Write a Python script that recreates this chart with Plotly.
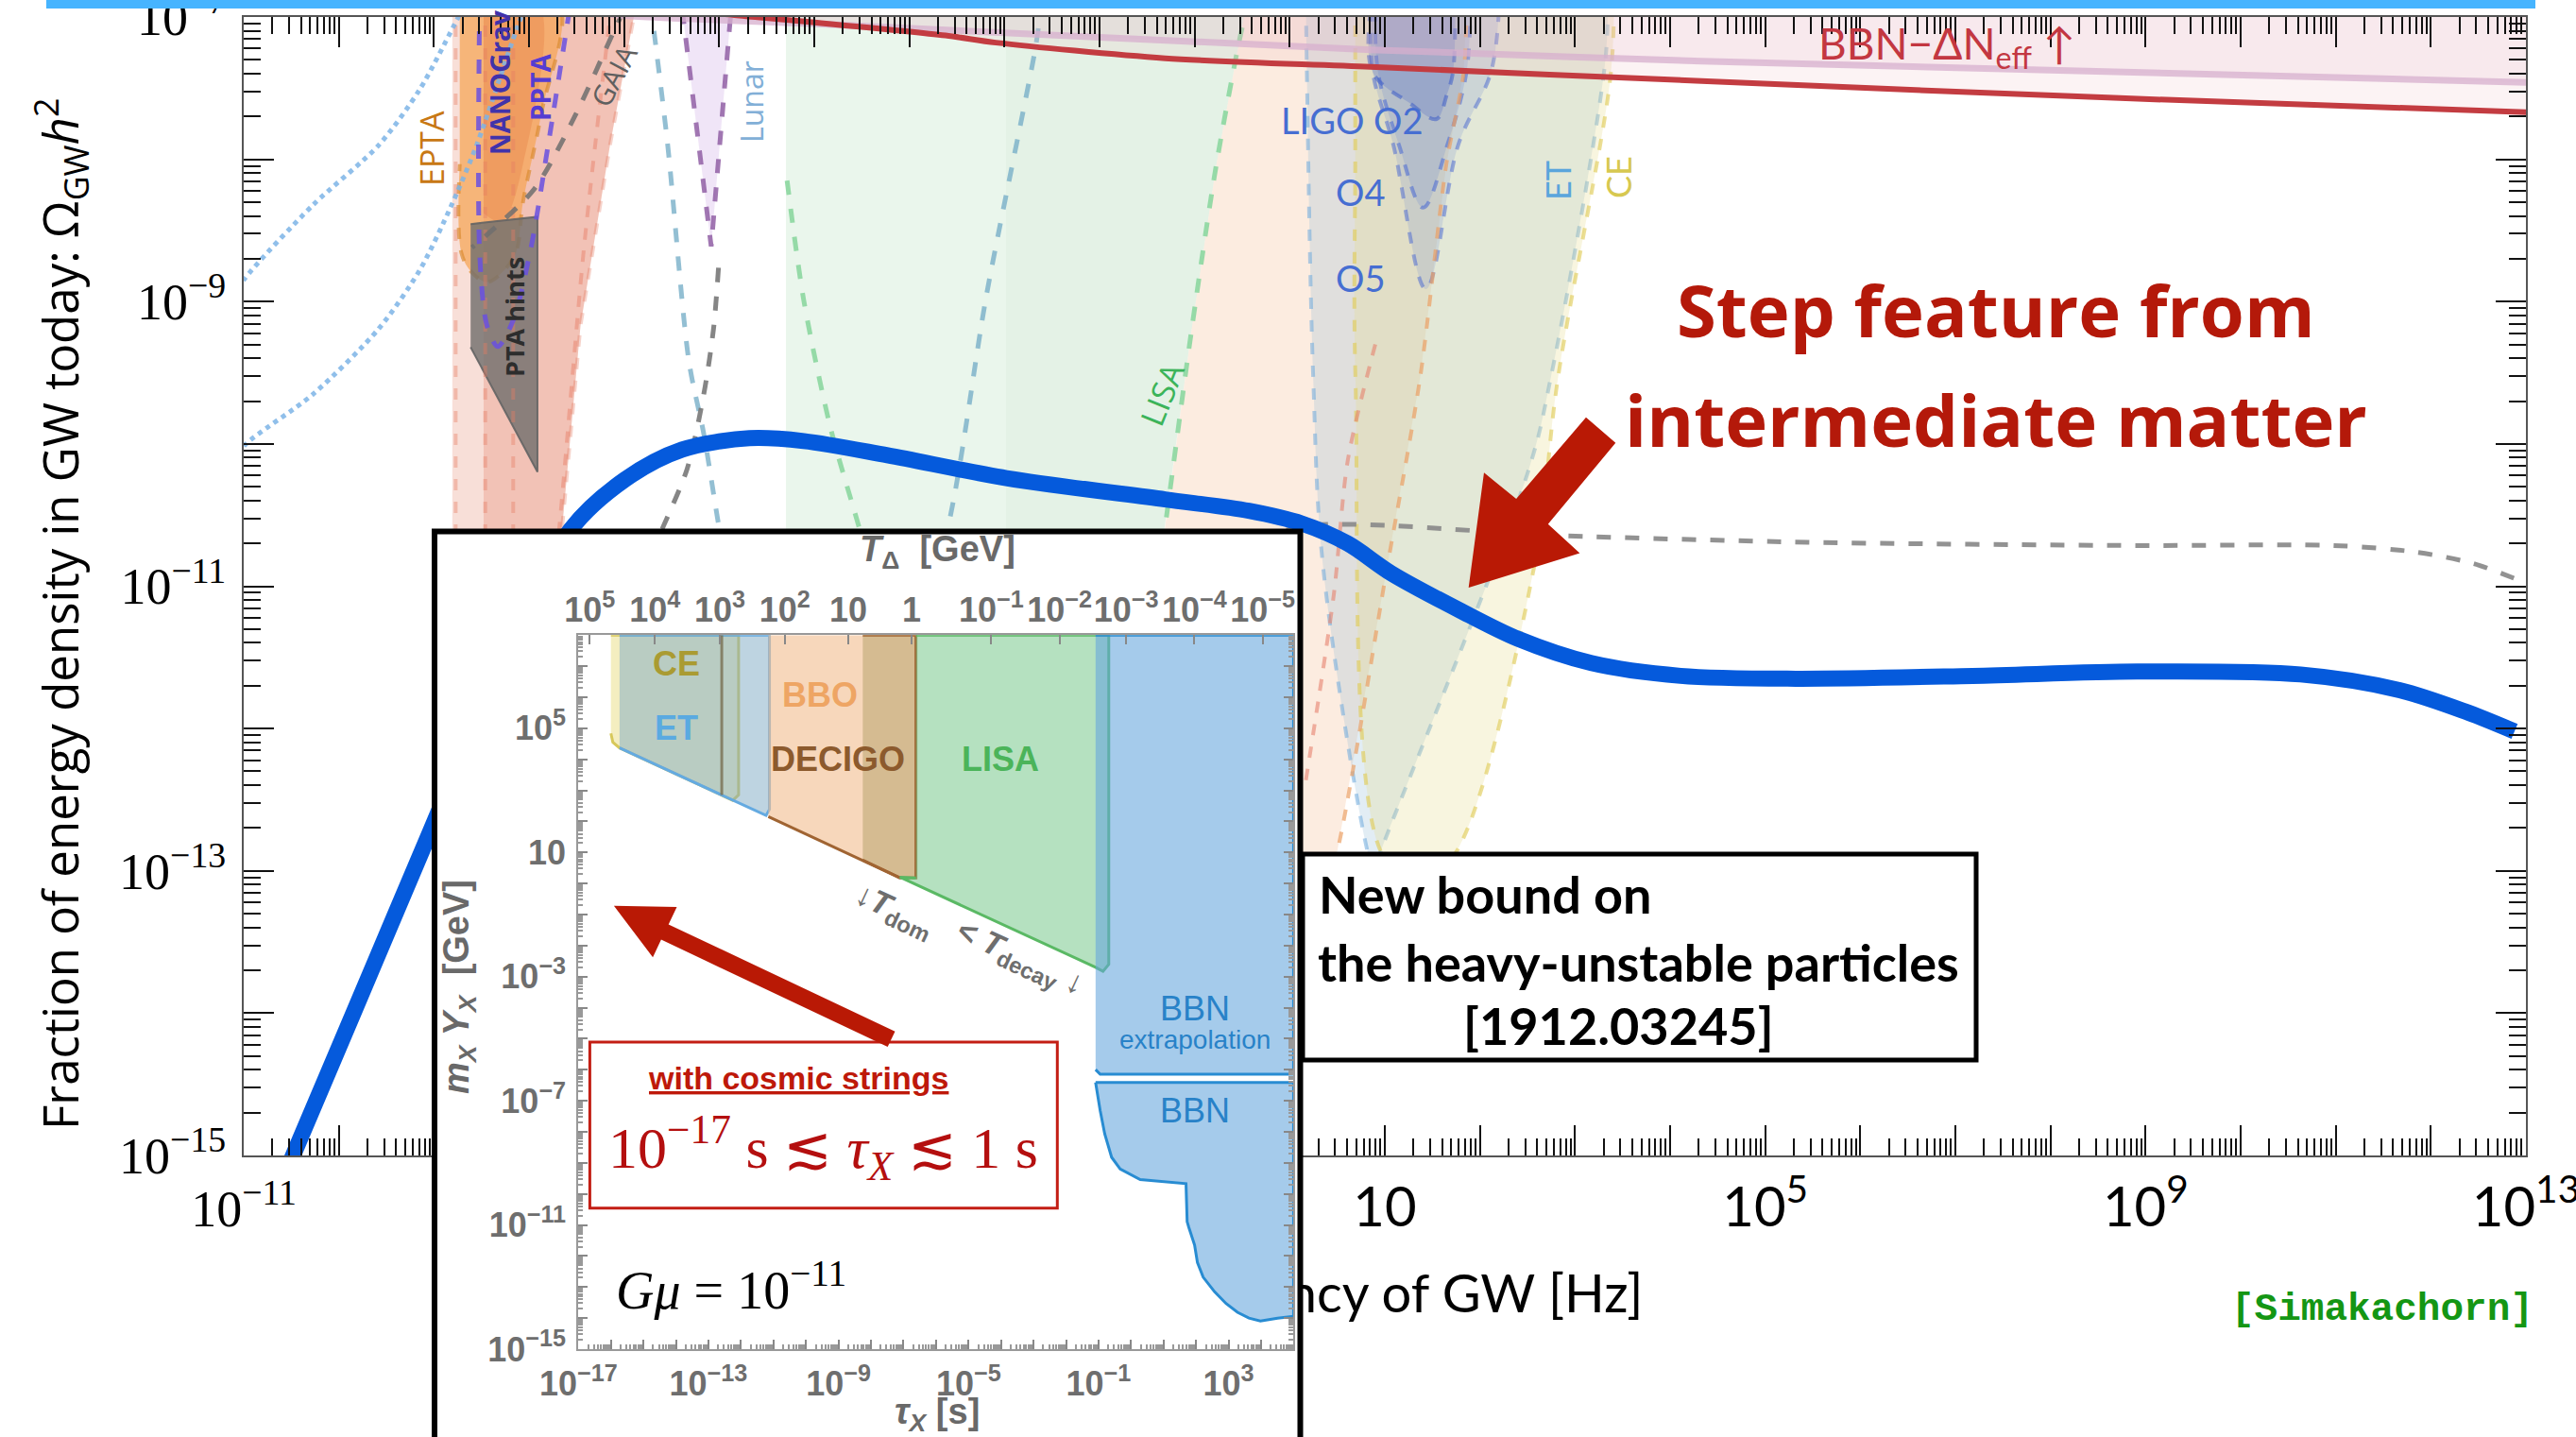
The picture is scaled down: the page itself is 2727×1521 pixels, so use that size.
import plotly.graph_objects as go

W, H = 2727, 1521


def px(x):
    return x / W


def py(y):
    return (H - y) / H


def p10(v):
    return [10.0 ** t for t in v]


SERIF = "Liberation Serif, DejaVu Serif, serif"
SANS = "Open Sans, DejaVu Sans, sans-serif"
COND = "Lato, Roboto, sans-serif"
ARIAL = "Liberation Sans, Arial, sans-serif"
MONO = "Liberation Mono, DejaVu Sans Mono, monospace"

# ---------------- main panel: log10 f [Hz] vs log10 Omega_GW h^2 ----------------
# cosmic-string spectrum with a step from an intermediate matter era
spec_lf = [-10.50, -9.84, -9.03, -8.29, -7.56, -6.99, -6.39, -5.68, -5.11, -4.23, -2.98, -1.31,
           -0.43, 0.13, 0.61, 1.07, 1.79, 2.40, 3.17, 4.11, 5.32, 7.18, 8.91, 10.63, 11.67, 12.36, 12.88]
spec_lo = [-15.03, -13.99, -12.71, -11.55, -10.60, -10.25, -10.04, -9.96, -9.98, -10.08, -10.24, -10.39,
           -10.47, -10.56, -10.70, -10.91, -11.17, -11.37, -11.54, -11.63, -11.65, -11.63, -11.60, -11.62,
           -11.73, -11.88, -12.02]

# standard spectrum without the step (grey dashed)
std_lf = [-0.6, 0.179, 2.857, 5.449, 8.905, 10.978, 11.842, 12.447, 12.88, 13.1]
std_lo = [-10.74, -10.576, -10.645, -10.691, -10.714, -10.714, -10.76, -10.84, -10.945, -11.0]

# BBN - Delta N_eff bound and the companion line
bbn_lf = [-6.5, -5.94, -5.13, -3.62, -3.09, -1.31, 0.85, 4.33, 8.73, 13.05]
bbn_lo = [-6.93, -6.98, -7.03, -7.13, -7.18, -7.29, -7.35, -7.45, -7.57, -7.67]
neff_lf = [-7.5, -6.99, -4.92, 0.85, 4.33, 13.05]
neff_lo = [-6.95, -6.99, -7.05, -7.23, -7.31, -7.46]

# PTA / SKA region
ska_lf = [-8.806, -6.87, -7.147, -7.458, -7.648, -7.821, -8.806]
ska_lo = [-6.9, -6.9, -7.895, -9.166, -10.564, -11.731, -11.731]
ska2_lf = [-8.477, -6.87, -7.147, -7.458, -7.648, -7.821, -8.477]
ska2_lo = [-6.9, -6.9, -7.895, -9.166, -10.564, -11.731, -11.731]
ska_dash_x = [-8.771, -8.46, -8.166]
ska_slant_lf = [-7.13, -7.42, -7.68, -7.85]
ska_slant_lo = [-6.9, -8.61, -10.58, -11.7]

epta_lf = [-8.728, -7.700, -7.873, -8.063, -8.139, -8.287, -8.443, -8.598, -8.711, -8.728]
epta_lo = [-6.9, -6.9, -7.687, -8.300, -8.658, -8.797, -8.862, -8.797, -8.658, -8.034]
nano_f_lf = [-8.477, -7.907, -8.063, -8.287, -8.477]
nano_f_lo = [-6.9, -6.9, -8.034, -8.438, -8.380]
nano_lf = [-8.519, -8.519, -8.443, -8.329, -8.166, -7.976, -7.803, -7.562]
nano_lo = [-6.9, -8.658, -9.166, -9.316, -9.131, -8.611, -7.918, -6.9]
pta_lf = [-8.614, -7.911, -7.911, -8.614]
pta_lo = [-8.455, -8.404, -10.197, -9.320]

gaia_lf = [-7.0, -7.112, -7.510, -7.942, -8.443, -8.6]
gaia_lo = [-6.95, -7.107, -7.687, -8.207, -8.531, -8.62]

dot1_lf = [-11.1, -10.99, -10.27, -9.58, -9.15, -8.75, -8.70]
dot1_lo = [-8.97, -8.84, -8.32, -7.90, -7.51, -7.01, -6.95]
dot2_lf = [-11.1, -10.99, -10.27, -9.58, -9.15, -8.82, -8.55, -8.08, -8.02]
dot2_lo = [-10.13, -10.01, -9.65, -9.19, -8.78, -8.33, -7.90, -7.0, -6.93]

lunar_lf = [-6.72, -6.698, -6.542, -6.318, -6.162, -6.007, -5.609, -4.918, -4.227, -3.587, -3.190, -2.672, -2.62]
lunar_lo = [-6.9, -7.029, -7.895, -9.420, -9.929, -10.564, -12.078, -12.887, -12.078, -10.564, -8.958, -7.209, -6.95]
tq_lf = [-6.388, -6.084, -5.875]
tq_lo = [-6.95, -8.612, -6.95]
gl_lf = [-6.007, -6.059, -6.162, -6.335, -6.577, -6.905]
gl_lo = [-8.762, -9.189, -9.651, -10.171, -10.564, -11.04]

# LISA and the interferometer regions
lisa_f_lf = [-5.298, -0.45, -0.512, -0.771, -1.030, -1.307, -1.549, -1.8, -5.298]
lisa_f_lo = [-6.9, -6.9, -7.11, -8.034, -9.189, -10.564, -11.731, -12.3, -12.3]
lisa2_f_lf = [-2.983, -0.45, -0.512, -0.771, -1.030, -1.307, -1.549, -1.8, -2.983]
lisa2_f_lo = lisa_f_lo
lisa_lf = [-5.286, -5.111, -4.831, -4.538, -4.14, -3.19, -2.153, -1.549, -1.307, -1.030, -0.771, -0.512, -0.45]
lisa_lo = [-8.149, -8.989, -9.882, -10.564, -11.50, -12.42, -12.19, -11.731, -10.564, -9.189, -8.034, -7.11, -6.95]

peach_lf = [-0.45, 1.86, 1.829, 1.647, 1.371, 1.025, 0.500, 0.0, -1.549, -1.307, -1.030, -0.771, -0.512]
peach_lo = [-6.9, -6.9, -7.39, -8.034, -9.536, -10.864, -12.863, -13.2, -11.731, -10.564, -9.189, -8.034, -7.11]
bbo_lf = [1.86, 1.829, 1.647, 1.371, 1.025, 0.500, 0.3]
bbo_lo = [-6.9, -7.39, -8.034, -9.536, -10.864, -12.863, -13.3]
dec_lf = [0.9, 0.611, 0.463, 0.159]
dec_lo = [-9.3, -10.113, -11.061, -12.409]

et_lf = [0.17, 0.179, 0.247, 0.351, 0.818, 0.888, 0.957, 2.512, 2.745, 3.314, 3.345]
et_lo = [-6.9, -7.336, -9.536, -10.864, -12.863, -13.002, -12.863, -10.183, -9.536, -7.336, -6.9]
ce_lf = [0.689, 0.689, 0.691, 0.957, 1.354, 1.755, 2.570, 2.821, 3.370, 3.41]
ce_lo = [-6.9, -8.0, -9.536, -12.863, -13.12, -12.863, -10.864, -9.536, -7.438, -6.9]

o5_lf = [0.86, 0.874, 1.088, 1.432, 1.774, 2.115, 2.2]
o5_lo = [-6.95, -7.39, -7.895, -8.912, -7.895, -7.39, -6.95]
o4_lf = [0.90, 0.929, 1.147, 1.402, 1.659, 1.858, 1.90]
o4_lo = [-6.95, -7.39, -7.895, -8.340, -7.895, -7.39, -6.95]
o2_lf = [0.85, 0.874, 1.25, 1.543, 1.65, 1.716, 1.74]
o2_lo = [-6.95, -7.39, -7.6, -7.717, -7.55, -7.39, -6.95]

# ---------------- inset: log10 tau_X [s] vs log10 m_X Y_X [GeV] ----------------
ce_t = [-16.0, -12.072, -12.072, -12.25, -15.733, -15.94, -16.0]
ce_m = [8.0, 8.0, 2.858, 2.68, 4.365, 4.55, 4.835]
et_t = [-15.733, -11.122, -11.122, -11.227, -15.733]
et_m = [8.0, 8.0, 2.387, 2.191, 4.365]
bbo_t = [-11.157, -6.616, -6.616, -7.109, -11.157]
bbo_m = [8.0, 8.0, 0.183, 0.183, 2.157]
decigo_t = [-8.253, -6.616, -6.616, -7.109, -8.253]
decigo_m = [8.0, 8.0, 0.183, 0.183, 0.757]
lisa_t = [-6.616, -0.685, -0.685, -0.862, -1.09, -3.677, -7.109, -6.616]
lisa_m = [8.0, 8.0, -2.605, -2.831, -2.699, -1.451, 0.205, 0.183]
bbnx_t = [-1.09, 5.0, 5.0, -0.949, -1.09]
bbnx_m = [8.0, 8.0, -6.146, -6.146, -5.996]
bbn_t = [-1.09, 5.0, 5.0, 4.507, 3.979, 3.627, 3.275, 2.923, 2.571, 2.219, 2.043, 1.955, 1.779,
         1.726, 1.691, 0.987, 0.283, -0.333, -0.597, -0.809, -0.949, -1.09]
bbn_m = [-6.41, -6.41, -13.944, -14.001, -14.095, -14.001, -13.813, -13.530, -13.153, -12.682, -12.212,
         -11.646, -11.081, -10.893, -9.669, -9.612, -9.537, -9.198, -8.821, -8.068, -7.314, -6.41]

# temperature scale on the top axis of the inset (positions in log10 tau)
tdelta_pos = [-16.65, -14.65, -12.65, -10.65, -8.7, -6.75, -4.3, -2.2, -0.15, 1.95, 4.05]
tdelta_txt = ["10<sup>5</sup>", "10<sup>4</sup>", "10<sup>3</sup>", "10<sup>2</sup>", "10", "1",
              "10<sup>−1</sup>", "10<sup>−2</sup>", "10<sup>−3</sup>", "10<sup>−4</sup>", "10<sup>−5</sup>"]

fig = go.Figure()


def region(lf, lo, fill, line=None, width=4, dash=None, shape="linear", xa="x", ya="y"):
    fig.add_trace(go.Scatter(
        x=p10(lf), y=p10(lo), mode="lines", fill="toself", fillcolor=fill,
        line=dict(color=line if line else "rgba(0,0,0,0)", width=width if line else 0,
                  dash=dash, shape=shape),
        xaxis=xa, yaxis=ya, hoverinfo="skip", showlegend=False))


def curve(lf, lo, color, width=5, dash="dash", shape="spline", xa="x", ya="y"):
    fig.add_trace(go.Scatter(
        x=p10(lf), y=p10(lo), mode="lines",
        line=dict(color=color, width=width, dash=dash, shape=shape, smoothing=0.8),
        xaxis=xa, yaxis=ya, hoverinfo="skip", showlegend=False))


# --- shaded sensitivity regions ---
region(ska_lf, ska_lo, "rgba(232,150,125,0.30)", "rgba(230,130,105,0.35)", 4, "dash")
region(ska2_lf, ska2_lo, "rgba(225,120,95,0.28)")
region(epta_lf, epta_lo, "rgba(245,165,85,0.72)", "rgba(220,140,50,0.7)", 4, "dash", "spline")
region(nano_f_lf, nano_f_lo, "rgba(225,120,60,0.30)", shape="spline")
region(lisa_f_lf, lisa_f_lo, "rgba(150,210,160,0.20)")
region(lisa2_f_lf, lisa2_f_lo, "rgba(150,200,150,0.07)")
region(peach_lf, peach_lo, "rgba(245,195,160,0.32)")
region(et_lf, et_lo, "rgba(150,190,215,0.28)", "rgba(110,170,220,0.55)", 4, "dash", "spline")
region(ce_lf, ce_lo, "rgba(230,220,140,0.28)", "rgba(225,205,90,0.65)", 4, "dash", "spline")
region(o5_lf, o5_lo, "rgba(90,120,210,0.16)", "rgba(80,110,210,0.55)", 4, "dash", "spline")
region(o4_lf, o4_lo, "rgba(90,120,210,0.18)", "rgba(80,110,210,0.6)", 4, "dash", "spline")
region(o2_lf, o2_lo, "rgba(70,100,200,0.25)", "rgba(70,100,200,0.6)", 4, "dash", "spline")
region(tq_lf, tq_lo, "rgba(200,160,225,0.28)", "rgba(145,95,165,0.85)", 5, "dash")
region(pta_lf, pta_lo, "rgba(115,112,110,0.82)", "rgba(100,100,100,0.9)", 2)

# --- sensitivity curves ---
for xv in ska_dash_x:
    curve([xv, xv], [-6.9, -11.7], "rgba(230,125,100,0.40)", 4, "dash", "linear")
curve(ska_slant_lf, ska_slant_lo, "rgba(230,125,100,0.45)", 4)
curve(dot1_lf, dot1_lo, "rgba(125,180,230,0.85)", 5, "dot")
curve(dot2_lf, dot2_lo, "rgba(125,180,230,0.85)", 5, "dot")
curve(nano_lf, nano_lo, "rgba(105,80,225,0.85)", 5)
curve(gaia_lf, gaia_lo, "rgba(110,110,110,0.85)", 5)
curve(lunar_lf, lunar_lo, "rgba(120,175,200,0.8)", 5)
curve(gl_lf, gl_lo, "rgba(120,120,120,0.9)", 5)
curve(lisa_lf, lisa_lo, "rgba(140,215,160,0.9)", 5)
curve(bbo_lf, bbo_lo, "rgba(235,160,100,0.7)", 4)
curve(dec_lf, dec_lo, "rgba(230,130,110,0.6)", 4)
curve(std_lf, std_lo, "rgba(140,140,140,0.95)", 5)

# --- Delta N_eff bound ---
region(neff_lf + [13.05, -7.5], neff_lo + [-6.5, -6.5], "rgba(215,160,195,0.13)")
region(bbn_lf + [13.05, -6.5], bbn_lo + [-6.5, -6.5], "rgba(240,190,195,0.18)")
curve(neff_lf, neff_lo, "rgba(215,175,205,0.75)", 7, "solid")
curve(bbn_lf, bbn_lo, "rgb(195,60,65)", 6, "solid")

# --- spectrum ---
fig.add_trace(go.Scatter(
    x=p10(spec_lf), y=p10(spec_lo), mode="lines",
    line=dict(color="rgb(5,90,220)", width=17, shape="spline", smoothing=0.9),
    hoverinfo="skip", showlegend=False))

# x-axis title in its own panel, drawn underneath the inset
fig.add_trace(go.Scatter(
    x=[0.5], y=[0.5], mode="text", text=["Frequency of GW [Hz]"],
    textfont=dict(family=COND, size=56, color="black"), cliponaxis=False,
    xaxis="x2", yaxis="y2", hoverinfo="skip", showlegend=False))

# frame panel of the inset (opaque background)
fig.add_trace(go.Scatter(x=[0.5], y=[0.5], mode="markers", marker=dict(opacity=0),
                         xaxis="x3", yaxis="y3", hoverinfo="skip", showlegend=False))

# --- inset regions ---
IX, IY = "x4", "y4"
region(ce_t, ce_m, "rgba(236,226,150,0.60)", "rgb(215,200,90)", 3, xa=IX, ya=IY)
region(et_t, et_m, "rgba(125,170,195,0.50)", "rgb(100,170,225)", 3, xa=IX, ya=IY)
curve([-12.59, -12.59], [8.0, 2.85], "rgba(120,110,80,0.8)", 3, "solid", "linear", IX, IY)
region(bbo_t, bbo_m, "rgba(242,190,145,0.62)", xa=IX, ya=IY)
region(decigo_t, decigo_m, "rgba(150,135,70,0.35)", "rgb(160,100,50)", 3, xa=IX, ya=IY)
curve([-11.157, -7.109], [2.157, 0.183], "rgb(160,100,50)", 3, "solid", "linear", IX, IY)
region(lisa_t, lisa_m, "rgba(120,200,140,0.55)", "rgb(90,185,100)", 3, xa=IX, ya=IY)
region(bbnx_t, bbnx_m, "rgba(100,165,220,0.58)", "rgb(40,140,210)", 3, xa=IX, ya=IY)
region(bbn_t, bbn_m, "rgba(100,165,220,0.58)", "rgb(40,140,210)", 3, xa=IX, ya=IY)
fig.add_trace(go.Scatter(x=[1e-10], y=[1.0], mode="markers", marker=dict(opacity=0),
                         xaxis="x5", yaxis=IY, hoverinfo="skip", showlegend=False))


def sup(k):
    if k == 0:
        return "1"
    if k == 1:
        return "10"
    return "10<sup>" + str(k).replace("-", "−") + "</sup>"


cond_span = ('<span style="font-family:Lato, Roboto, sans-serif;'
             'font-size:58px">{}</span>')
main_x_txt = []
for k in range(-11, 14):
    if k in (-11, -7, -3):
        main_x_txt.append(sup(k))
    elif k in (1, 5, 9, 13):
        main_x_txt.append(cond_span.format(sup(k)))
    else:
        main_x_txt.append("")
main_y_txt = [sup(k) if k % 2 else "" for k in range(-15, -6)]

minor_x = [m * 10.0 ** k for k in range(-11, 13) for m in range(2, 10)]
minor_y = [m * 10.0 ** k for k in range(-15, -7) for m in range(2, 10)]
ins_minor_x = [m * 10.0 ** k for k in range(-17, 5) for m in range(2, 10)]
ins_minor_y = [m * 10.0 ** k for k in range(-15, 8) for m in range(2, 10)]

main_axis = dict(type="log", showgrid=False, zeroline=False, ticks="inside", ticklen=32,
                 tickwidth=2, tickcolor="#111", showline=True, linecolor="#555", linewidth=2,
                 mirror="ticks", tickmode="array", automargin=False, tickangle=0,
                 ticklabeloverflow="allow",
                 tickfont=dict(family=SERIF, size=54, color="black"))
ins_font = dict(family=ARIAL, size=36, color="rgb(110,110,110)", weight="bold")
ins_axis = dict(type="log", showgrid=False, zeroline=False, ticks="inside", ticklen=10,
                tickwidth=1.5, tickcolor="#888", showline=True, linecolor="#999", linewidth=2,
                tickmode="array", tickfont=ins_font, automargin=False, tickangle=0,
                ticklabeloverflow="allow")
hidden = dict(range=[0, 1], visible=False, automargin=False)

layout_x = dict(main_axis, range=[-11, 13], domain=[px(258), px(2674)], anchor="y",
                tickvals=[10.0 ** k for k in range(-11, 14)], ticktext=main_x_txt,
                ticklabelstandoff=8,
                minor=dict(tickmode="array", tickvals=minor_x, ticks="inside", ticklen=18,
                           tickwidth=1.5, tickcolor="#111"))
layout_y = dict(main_axis, range=[-15, -7], domain=[py(1223), py(18)], anchor="x",
                tickvals=[10.0 ** k for k in range(-15, -6)], ticktext=main_y_txt,
                ticklabelstandoff=6,
                minor=dict(tickmode="array", tickvals=minor_y, ticks="inside", ticklen=18,
                           tickwidth=1.5, tickcolor="#111"))

ins_x_lab = {-17, -13, -9, -5, -1, 3}
ins_y_lab = {5, 1, -3, -7, -11, -15}
layout_x4 = dict(ins_axis, range=[-17, 5], domain=[px(612.3), px(1369.4)], anchor=IY,
                 tickvals=[10.0 ** k for k in range(-17, 6)],
                 ticktext=[sup(k) if k in ins_x_lab else "" for k in range(-17, 6)],
                 ticklabelstandoff=4,
                 minor=dict(tickmode="array", tickvals=ins_minor_x, ticks="inside", ticklen=5,
                            tickcolor="#999"))
layout_y4 = dict(ins_axis, range=[-15, 8], domain=[py(1428), py(672.3)], anchor=IX,
                 mirror="ticks",
                 tickvals=[10.0 ** k for k in range(-15, 9)],
                 ticktext=[sup(k) if k in ins_y_lab else "" for k in range(-15, 9)],
                 ticklabelstandoff=4,
                 minor=dict(tickmode="array", tickvals=ins_minor_y, ticks="inside", ticklen=5,
                            tickcolor="#999"))
layout_x5 = dict(ins_axis, range=[-17, 5], overlaying=IX, side="top", anchor=IY,
                 tickvals=[10.0 ** p for p in tdelta_pos], ticktext=tdelta_txt,
                 ticklabelstandoff=-2)

# --- text ---
ann = []


def label(text, x, y, size, color, family=SANS, angle=0, xanchor="center", yanchor="middle"):
    ann.append(dict(text=text, x=px(x), y=py(y), xref="paper", yref="paper", showarrow=False,
                    font=dict(size=size, color=color, family=family), textangle=angle,
                    xanchor=xanchor, yanchor=yanchor))


label("Fraction of energy density in GW today: Ω<sub>GW</sub><i>h</i><sup>2</sup>",
      64, 650, 51, "black", SANS, -90)
label("BBN−ΔN<sub>eff</sub> ↑", 2061, 49, 46, "rgb(195,55,65)", COND)
label("EPTA", 457, 157, 34, "rgb(200,120,20)", SANS, -90)
label("<b>NANOGrav</b>", 529, 88, 28, "rgb(65,50,170)", SANS, -90)
label("<b>PPTA</b>", 572, 93, 28, "rgb(85,60,210)", SANS, -90)
label("GAIA", 649, 80, 30, "rgb(95,95,95)", SANS, -62)
label("<b>PTA hints</b>", 544, 336, 27, "rgb(45,45,45)", SANS, -90)
label("Lunar", 795, 108, 32, "rgb(130,175,215)", SANS, -90)
label("LISA", 1230, 417, 34, "rgb(60,180,90)", SANS, -68)
label("LIGO O2", 1431, 127, 38, "rgb(70,110,210)", COND)
label("O4", 1440, 203, 38, "rgb(70,110,210)", COND)
label("O5", 1440, 294, 38, "rgb(70,110,210)", COND)
label("ET", 1649, 191, 36, "rgb(90,165,220)", COND, -90)
label("CE", 1713, 188, 36, "rgb(215,200,80)", COND, -90)
label("<b>Step feature from</b>", 2113, 327, 76, "rgb(180,25,10)", SANS)
label("<b>intermediate matter</b>", 2113, 443, 76, "rgb(180,25,10)", SANS)
label("<b>New bound on</b>", 1394, 946, 54, "black", COND, xanchor="left")
label("<b>the heavy-unstable particles</b>", 1734, 1019, 54, "black", COND)
label("<b>[1912.03245]</b>", 1713, 1085, 54, "black", COND)
label("<b>[Simakachorn]</b>", 2522, 1386, 41, "rgb(20,150,20)", MONO)

# inset text
GRAY = "rgb(105,105,105)"
label("<b><i>T</i><sub>Δ</sub>  [GeV]</b>", 992, 584, 38, GRAY, ARIAL)
label("<b><i>m<sub>X</sub> Y<sub>X</sub></i>  [GeV]</b>", 486, 1045, 38, GRAY, ARIAL, -90)
label("<b><i>τ<sub>X</sub></i> [s]</b>", 992, 1497, 38, GRAY, ARIAL)
label("<b>CE</b>", 716, 702, 36, "rgb(170,155,50)", ARIAL)
label("<b>ET</b>", 716, 770, 36, "rgb(90,170,225)", ARIAL)
label("<b>BBO</b>", 868, 736, 36, "rgb(238,165,100)", ARIAL)
label("<b>DECIGO</b>", 887, 803, 36, "rgb(140,90,45)", ARIAL)
label("<b>LISA</b>", 1059, 803, 36, "rgb(75,180,90)", ARIAL)
label("BBN", 1265, 1067, 36, "rgb(40,130,200)", ARIAL)
label("extrapolation", 1265, 1100, 28, "rgb(40,130,200)", ARIAL)
label("BBN", 1265, 1175, 36, "rgb(40,130,200)", ARIAL)
label("<b>↓<i>T</i><sub>dom</sub></b>", 947, 964, 34, "rgb(110,110,110)", ARIAL, 25)
label("<b>< <i>T</i><sub>decay</sub> ↓</b>", 1080, 1014, 34, "rgb(110,110,110)", ARIAL, 25)
label("<b><u>with cosmic strings</u></b>", 845, 1141, 34, "rgb(190,25,10)", ARIAL)
label("10<sup>−17</sup> s ≲ <i>τ<sub>X</sub></i> ≲ 1 s", 871, 1214, 62, "rgb(180,15,15)", SERIF)
label("<i>Gμ</i> = 10<sup>−11</sup>", 774, 1361, 56, "black", SERIF)


# --- boxes and block arrows ---
def poly_path(pts):
    return "M " + " L ".join(f"{px(x):.5f},{py(y):.5f}" for x, y in pts) + " Z"


main_arrow = [(1679.0, 441.7), (1710.3, 468.8), (1638.8, 554.7), (1672.4, 585.5),
              (1554.7, 621.9), (1571.0, 500.3), (1605.1, 528.1)]
inset_arrow = [(649.9, 958.7), (716.5, 959.9), (707.7, 978.4), (947.5, 1091.7),
               (939.7, 1107.9), (699.9, 994.6), (691.1, 1013.2)]

shapes = [
    dict(type="rect", xref="paper", yref="paper", x0=px(49), x1=px(2684), y0=py(9), y1=py(-2),
         fillcolor="rgb(70,180,255)", line=dict(width=0), layer="above"),
    dict(type="rect", xref="paper", yref="paper", x0=px(460), x1=px(1376.5), y0=py(1540), y1=py(562.5),
         line=dict(color="black", width=6), layer="above"),
    dict(type="rect", xref="paper", yref="paper", x0=px(1379), x1=px(2092), y0=py(1122), y1=py(904),
         fillcolor="white", line=dict(color="black", width=5), layer="above"),
    dict(type="rect", xref="paper", yref="paper", x0=px(624.4), x1=px(1119.3), y0=py(1278.8),
         y1=py(1102.9), line=dict(color="rgb(195,30,20)", width=3), layer="above"),
    dict(type="path", xref="paper", yref="paper", path=poly_path(main_arrow),
         fillcolor="rgb(185,25,5)", line=dict(width=0), layer="above"),
    dict(type="path", xref="paper", yref="paper", path=poly_path(inset_arrow),
         fillcolor="rgb(185,25,5)", line=dict(width=0), layer="above"),
]

fig.update_layout(
    width=W, height=H, margin=dict(l=0, r=0, t=0, b=0, pad=0, autoexpand=False),
    paper_bgcolor="white", plot_bgcolor="white", showlegend=False,
    xaxis=layout_x, yaxis=layout_y,
    xaxis2=dict(hidden, domain=[px(258), px(2674)], anchor="y2"),
    yaxis2=dict(hidden, domain=[py(1450), py(1300)], anchor="x2"),
    xaxis3=dict(hidden, domain=[px(457.4), px(1379)], anchor="y3"),
    yaxis3=dict(hidden, domain=[0, py(560)], anchor="x3"),
    xaxis4=layout_x4, yaxis4=layout_y4, xaxis5=layout_x5,
    annotations=ann, shapes=shapes,
)

fig.write_html("out.html")
